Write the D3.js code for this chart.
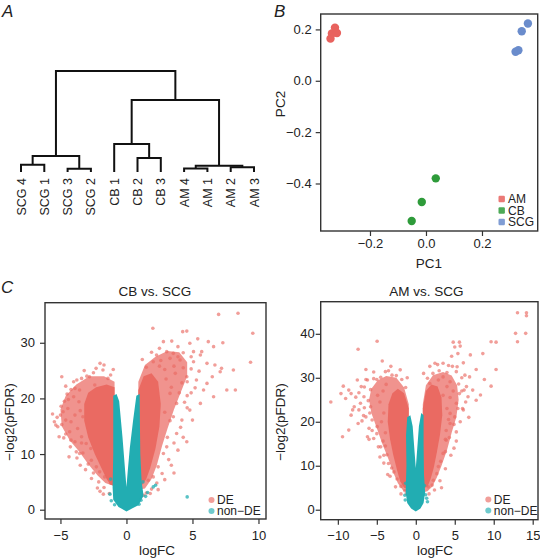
<!DOCTYPE html>
<html><head><meta charset="utf-8">
<script src="https://cdn.jsdelivr.net/npm/d3@7"></script>
<style>
body{margin:0;background:#fff}
text{font-family:"Liberation Sans",Arial,Helvetica,sans-serif;fill:#222}
</style></head>
<body><svg id="c" width="540" height="560"></svg>
<script>
// ---------- Panel A: dendrogram data ----------
const leafNames = ["SCG 4","SCG 1","SCG 3","SCG 2","CB 1","CB 2","CB 3","AM 4","AM 1","AM 2","AM 3"];
// hclust-style merges: negative = leaf (1-based), positive = earlier merge (1-based)
const mergeLeft   = [-3, -8, -10, -1, 4, -6, -5, 2, 7, 5];
const mergeRight  = [-4, -9, -11, -2, 1, -7,  6, 3, 8, 9];
const mergeHeight = [0.033, 0.035, 0.047, 0.072, 0.158, 0.139, 0.277, 0.062, 0.713, 1.0];

// ---------- Panel B: PCA ----------
const pcaGroups = ["AM","CB","SCG"];
const pcaColors = ["#e8625e","#2e9b3a","#6a8ccc"];
const pcaGroup = ["AM","AM","AM","AM","CB","CB","CB","SCG","SCG","SCG","SCG"];
const pc1 = [-0.341,-0.336,-0.325,-0.318, 0.035,-0.015,-0.051, 0.364, 0.342, 0.330, 0.320];
const pc2 = [ 0.164, 0.184, 0.207, 0.186,-0.380,-0.472,-0.546, 0.223, 0.193, 0.119, 0.113];
const pcaXTicks = [-0.2, 0.0, 0.2];
const pcaYTicks = [0.2, 0.0, -0.2, -0.4];

// ---------- Panel C: volcano plots ----------
const volcLegend = ["DE","non\u2212DE"];
const deColor = "#ea6a62", nonColor = "#22adb2";

// CB vs. SCG  (dense regions as outlines [logFC, -log2 pFDR], sparse genes as points)
const cbXTicks = [-5, 0, 5, 10];
const cbYTicks = [0, 10, 20, 30];
const cbDEHaloLeft = [[-0.9,23],[-1.7,24],[-2.8,24],[-3.8,22.5],[-4.6,20.5],[-5.0,18],[-4.9,15],[-4.3,12.5],[-3.6,10.5],[-2.9,8.2],[-2.2,6.2],[-1.6,4.8],[-0.9,4.2]];
const cbDECoreLeft = [[-0.9,22],[-1.5,22.5],[-2.3,22],[-2.9,21],[-3.2,19],[-3.2,16],[-2.9,13],[-2.4,10],[-1.9,7.5],[-1.5,5.5],[-1.2,4.5],[-0.9,4.3]];
const cbDEHaloRight = [[0.9,23],[1.4,26],[2.2,27.5],[3.1,28.5],[4.0,28.3],[4.6,26.5],[4.6,24],[4.1,21],[3.6,18],[3.1,14.5],[2.7,11.5],[2.3,8],[1.9,5.5],[1.4,3.8],[0.9,3.6]];
const cbDECoreRight = [[0.9,21.5],[1.3,24],[1.9,24.5],[2.4,23],[2.6,19],[2.5,15],[2.2,11],[1.8,7.5],[1.5,5.5],[1.2,4.5],[0.9,4.3]];
const cbNonCore = [[0,-0.3],[-0.6,0.5],[-1.0,1.8],[-1.05,4],[-1.0,10],[-1.0,16],[-1.0,20.5],[-0.75,20.8],[-0.55,19.5],[-0.3,13],[-0.1,7],[0,4.1],[0.1,7],[0.25,11],[0.5,16],[0.75,20.5],[1.0,20.8],[1.02,15],[1.05,10],[1.15,5],[1.3,2.5],[0.9,0.8]];
const cbDEPoints = [[-5.46,15.8],[-5.2,14.9],[-4.9,23.9],[-4.6,22.2],[-3.76,23.3],[-3.2,25],[-2.0,26.3],[-2.8,23.9],[-4.6,16.1],[-4.3,14.0],[-3.8,10.4],[-3.55,10.1],[-3.05,11.9],[-3.4,13.1],[-4.2,12.5],[-2.66,8.9],[-2.28,7.7],[-2.03,6.8],[-1.65,5.9],[-4.8,17.6],[-5.1,13.1],[-4.0,20.3],[-3.55,21.5],[-2.4,22.4],[-1.78,25.1],[-1.4,23.6],[-4.44,18.2],[-3.3,16.7],[-4.7,19.5],[-5.0,17.0],[-4.5,20.8],[-3.9,21.8],[-3.0,24.0],[-2.5,24.6],[-1.2,24.2],[-4.9,15.3],[-4.6,13.6],[-3.9,12.2],[-3.3,10.2],[-2.9,8.2],[-2.5,6.6],[-2.1,5.0],[-1.7,4.0],[-1.3,2.9],[-1.2,4.8],
 [-4.95,18.6],[-5.25,16.6],[-5.35,15.2],[-4.75,12.9],[-4.25,11.3],[-3.75,9.3],[-3.1,7.2],[-2.65,5.6],[-2.2,3.9],[-1.75,2.8],[-4.2,21.6],[-3.4,23.6],[-2.3,25.4],[-1.7,26.0],[-1.0,25.2],[-4.0,23.0],[-5.6,17.2],[-3.5,8.0],[-2.0,3.3],[-4.35,9.5],
 [-3.6,19.4],[-3.9,17.0],[-4.2,15.8],[-3.7,14.6],[-3.5,17.8],[-4.4,19.8],[-3.4,12.0],[-2.7,11.0],
 [8.45,35.3],[6.98,35.1],[9.57,31.7],[4.26,32],[4.57,32.1],[3.43,30.3],[2.8,30.2],[6.2,30.2],[7.3,30],[6.6,29.3],[5.7,28.4],[5.08,28.4],[5.6,27.8],[4.3,28.2],[3.55,28.1],[3.05,28.4],[2.28,27.8],[2.03,26.6],[4.06,26.9],[5.08,26.6],[6.1,26.3],[6.7,26],[7.2,25.4],[7.1,24.8],[8.1,25.1],[9.4,26.5],[6.5,23.9],[7.6,21.5],[8.25,21.5],[4.57,23.9],[5.3,23.3],[5.84,21.5],[6.6,20.3],[5.6,19.1],[4.8,17.9],[4.57,12.2],[4.2,16.1],[3.55,16.7],[3.8,13.7],[3.05,11.3],[2.8,10.1],[2.4,7.7],[2.03,5.9],[1.65,5.3],[3.8,19.1],[3.3,20.9],[3.7,24.5],[4.2,22.8],[4.6,20.5],[4.0,21.0],[3.6,25.8],[2.6,26.8],[1.5,25.6],[4.9,25.3],[5.5,24.9],[4.4,19.3],[4.1,14.8],[3.6,12.0],[3.2,9.0],[2.7,6.5],[2.3,4.8],[1.9,3.7],[1.5,3.0],[5.2,21.9],[6.1,22.7],[4.8,29.9],[5.4,30.7],[3.9,29.3],[1.3,2.6],
 [1.2,27.0],[1.9,28.3],[2.5,29.0],[3.3,27.2],[4.3,25.5],[4.6,23.0],[4.9,21.0],[4.6,18.3],[4.3,13.0],[3.9,10.7],[3.4,8.0],[2.9,5.4],[2.4,3.6],[1.8,2.9],[5.0,16.1],[3.6,6.6],[4.9,27.5],[2.0,32.6],
 [3.0,23.5],[3.4,22.0],[2.9,17.5],[3.3,16.0],[2.9,25.2],[3.9,27.5],[2.5,25.8],[3.1,13.0]];
const cbNonPoints = [[4.6,2.3],[2.03,4.1],[2.2,4.4],[1.6,3.1],[1.45,2.4],[-1.15,1.6],[-1.25,2.8],[-1.2,5.5],[1.25,5.0],[-0.9,0.9],[0.95,1.0],[1.1,1.7]];

// AM vs. SCG
const amXTicks = [-10, -5, 0, 5, 10, 15];
const amYTicks = [0, 10, 20, 30, 40];
const amDEHaloLeft = [[-0.9,24],[-1.5,27.8],[-2.5,30],[-3.8,30.4],[-4.9,29.4],[-5.7,27.5],[-6.0,25],[-5.7,22],[-5.0,18.5],[-4.3,15],[-3.5,11.5],[-2.9,8.5],[-2.3,6],[-1.6,4.3],[-0.9,4]];
const amDECoreLeft = [[-0.9,23],[-1.5,26.5],[-2.3,27.5],[-3.0,26.5],[-3.5,24],[-3.6,20],[-3.3,16],[-2.9,12.5],[-2.4,9],[-2.0,6.5],[-1.5,5],[-0.9,4.7]];
const amDEHaloRight = [[0.9,24],[1.3,28.3],[2.2,30.6],[3.5,31.3],[4.6,30.5],[5.3,28.3],[5.5,25],[5.2,21],[4.6,17.5],[4.0,13.5],[3.3,10],[2.7,7.3],[2.1,5.2],[1.5,4.2],[0.9,4]];
const amDECoreRight = [[0.9,23],[1.3,27],[2.0,28.5],[2.8,28],[3.3,25.5],[3.4,21.5],[3.1,17],[2.7,13],[2.3,9.5],[1.9,7],[1.5,5.2],[0.9,4.8]];
const amNonCore = [[0,-0.4],[-0.6,0.3],[-1.1,1.5],[-1.3,4],[-1.2,10],[-1.25,17],[-1.1,21],[-0.7,21.5],[-0.4,19],[-0.15,13],[0,9.5],[0.15,13],[0.4,19],[0.7,22],[1.0,21.5],[1.0,15],[1.05,8],[1.2,4],[1.0,1.5],[0.6,0.3]];
const amDEPoints = [[-10.9,24.5],[-9.3,28.1],[-9.6,26.4],[-8.6,27.2],[-8.3,26.4],[-7.4,36.5],[-4.96,38.3],[-4.3,33.8],[-6.4,31.9],[-7.0,28],[-7.5,29.5],[-6.2,29.5],[-5.4,29.8],[-5.0,29.6],[-3.9,31.4],[-3.5,31.6],[-3.05,30.6],[-9.0,25.3],[-7.9,23.4],[-7.3,22.7],[-8.3,21.5],[-7.4,19.6],[-6.4,21.1],[-6.0,18.5],[-6.2,16.6],[-9.4,16.6],[-8.6,18.1],[-5.4,16.2],[-4.5,14.3],[-4.1,12.4],[-3.5,10.5],[-2.8,8.6],[-5.8,23.4],[-6.65,25.7],[-7.1,24.2],[-8.1,22.7],[-4.96,18.9],[-5.6,20.4],[-5.8,27.3],[-6.1,24.8],[-6.6,27.9],[-4.5,30.1],[-2.5,30.5],[-1.8,29.6],[-1.3,27.8],[-5.0,17.3],[-4.2,15.6],[-3.7,12.5],[-3.1,9.5],[-2.4,7.0],[-1.9,5.3],[-1.4,4.3],[-6.9,20.2],[-7.7,25.6],[-5.9,22.0],
 [-6.6,23.2],[-6.7,21.4],[-5.6,18.0],[-4.8,14.3],[-4.1,10.6],[-3.3,7.6],[-2.6,5.2],[-1.9,3.6],[-1.2,3.6],[-6.4,29.6],[-5.4,31.3],[-3.2,32.6],[-2.0,31.8],[-1.1,30.0],[-7.3,26.6],[-6.0,16.0],[-4.6,12.0],[-3.6,8.0],
 [-4.2,27.0],[-4.6,24.5],[-4.1,22.0],[-4.4,20.0],[-3.9,17.5],[-3.8,28.5],[-4.9,26.0],[-3.9,14.5],
 [13.05,44.8],[14.2,44.8],[14.2,44.1],[12.8,40.1],[14.1,40.1],[13.05,38.2],[9.66,38.2],[10.3,38.1],[4.8,38.1],[5.6,38.1],[5.7,37.2],[5.0,37],[5.4,35.5],[8.6,35.5],[7.0,35.2],[4.6,34.9],[3.5,33.3],[2.46,33.3],[6.1,33.4],[7.75,31.9],[10.3,31.9],[8.8,29.6],[9.66,28.1],[6.9,30.2],[6.3,30.6],[5.2,31.4],[4.4,29.1],[6.5,28],[7.3,27.2],[5.6,26.4],[6.7,25.7],[7.75,24.9],[5.2,24.2],[6.1,22.7],[5.0,21.1],[4.4,19.6],[5.2,17.7],[3.9,15.8],[3.5,12.8],[2.9,9.8],[2.25,6.7],[1.6,5.2],[4.4,21.9],[3.5,26],[2.9,29.5],[1.8,28.7],[5.5,28.6],[5.9,27.0],[4.0,31.2],[3.0,31.6],[2.2,31.0],[1.5,29.9],[5.4,23.0],[4.9,19.4],[4.3,16.4],[3.8,13.2],[3.2,11.0],[2.7,8.2],[2.1,5.6],[6.4,24.5],[8.3,26.1],[4.7,32.6],
 [1.0,31.0],[1.8,32.6],[2.8,33.0],[4.2,32.8],[5.3,32.5],[5.9,30.0],[6.2,27.2],[6.0,23.0],[5.7,20.0],[5.2,15.6],[4.5,12.4],[3.8,9.3],[3.1,6.6],[2.4,4.5],[1.7,3.6],[6.8,21.0],[4.9,14.0],[3.3,5.0],
 [4.0,28.0],[4.4,25.5],[4.0,23.0],[4.2,20.5],[3.9,18.0],[3.8,16.0],[3.5,30.2],[4.8,27.0]];
const amNonPoints = [[1.4,2.6],[1.5,1.8],[1.25,3.4],[-1.35,2.2],[-1.4,3.3],[1.1,5.5],[-1.3,6]];

// ================= drawing =================
const svg = d3.select("#c");
const fmt1 = d3.format(".1f"), fmt0 = d3.format("d");

function panelLetter(t, x, y){
  svg.append("text").attr("x",x).attr("y",y).attr("font-size",17).attr("font-style","italic").text(t);
}
panelLetter("A", 2, 17); panelLetter("B", 274, 17); panelLetter("C", 1, 293);

// ---- A: dendrogram ----
(function(){
  const xs = d3.scalePoint().domain(leafNames).range([21, 254]);
  const ys = d3.scaleLinear().domain([0, 1]).range([172, 71]);
  const leafNode = i => ({name: leafNames[i-1], h: 0, x: xs(leafNames[i-1])});
  const nodes = [];
  for (let k = 0; k < mergeLeft.length; k++){
    const ref = v => v < 0 ? leafNode(-v) : nodes[v-1];
    const a = ref(mergeLeft[k]), b = ref(mergeRight[k]);
    nodes.push({children:[a,b], h: mergeHeight[k], x: (a.x + b.x)/2});
  }
  const root = d3.hierarchy(nodes[nodes.length-1]);
  const g = svg.append("g");
  root.each(n => {
    if (!n.children) return;
    const [a,b] = n.children.map(c => c.data);
    const p = d3.path();
    p.moveTo(a.x, ys(a.h)); p.lineTo(a.x, ys(n.data.h)); p.lineTo(b.x, ys(n.data.h)); p.lineTo(b.x, ys(b.h));
    g.append("path").attr("d", p.toString()).attr("fill","none").attr("stroke","#111").attr("stroke-width",2);
  });
  g.selectAll("text.leaf").data(leafNames).join("text")
    .attr("transform", d => `translate(${xs(d)},178) rotate(-90)`)
    .attr("text-anchor","end").attr("dy","0.36em").attr("font-size",12.5).text(d => d);
})();

// ---- generic frame with axes ----
function frame(x, y, xt, yt, fmt, xpad, ypad){
  const [x0,x1] = x.range(), [y0,y1] = y.range();
  const ax = svg.append("g").attr("transform",`translate(0,${y0})`)
    .call(d3.axisBottom(x).tickValues(xt).tickSize(5).tickSizeOuter(0).tickPadding(xpad).tickFormat(fmt));
  const ay = svg.append("g").attr("transform",`translate(${x0},0)`)
    .call(d3.axisLeft(y).tickValues(yt).tickSize(5).tickSizeOuter(0).tickPadding(ypad).tickFormat(fmt));
  [ax, ay].forEach(a => {
    a.select(".domain").remove();
    a.selectAll("line").attr("stroke","#333").attr("stroke-width",1.2);
    a.selectAll("text").attr("font-size",13).attr("font-family",null).attr("fill","#222");
  });
  svg.append("rect").attr("x",x0).attr("y",y1).attr("width",x1-x0).attr("height",y0-y1)
    .attr("fill","none").attr("stroke","#333").attr("stroke-width",1.4);
}
function xTitle(t, x, y){ svg.append("text").attr("x",x).attr("y",y).attr("text-anchor","middle").attr("font-size",13.5).text(t); }
function yTitle(t, x, y){ svg.append("text").attr("transform",`translate(${x},${y}) rotate(-90)`).attr("text-anchor","middle").attr("font-size",13.5).text(t); }

// ---- B: PCA ----
(function(){
  const x = d3.scaleLinear().domain([-0.376, 0.399]).range([320.7, 537.7]);
  const y = d3.scaleLinear().domain([-0.585, 0.26]).range([231, 14]);
  const col = d3.scaleOrdinal().domain(pcaGroups).range(pcaColors);
  svg.append("g").selectAll("circle").data(pc1.map((v,i)=>i)).join("circle")
    .attr("cx", i => x(pc1[i])).attr("cy", i => y(pc2[i])).attr("r", 4.2)
    .attr("fill", i => col(pcaGroup[i]));
  frame(x, y, pcaXTicks, pcaYTicks, fmt1, 3, 4);
  xTitle("PC1", 429, 268);
  yTitle("PC2", 285, 104);
  const lg = svg.append("g");
  pcaGroups.forEach((gname, i) => {
    const yy = 199 + i*11.5;
    lg.append("rect").attr("x", 498.5).attr("y", yy-3.2).attr("width",6.4).attr("height",6.4).attr("rx",1.2)
      .attr("fill", col(gname)).attr("opacity",0.85);
    lg.append("text").attr("x", 508).attr("y", yy+4.2).attr("font-size",12).text(gname);
  });
})();

// ---- C: volcano plots ----
function volcano(o){
  const x = d3.scaleLinear().domain(o.xd).range(o.xr);
  const y = d3.scaleLinear().domain(o.yd).range(o.yr);
  const outline = d3.line().x(d => x(d[0])).y(d => y(d[1])).curve(d3.curveLinearClosed);
  const g = svg.append("g");
  [o.haloL, o.haloR].forEach(c => g.append("path").attr("d", outline(c)).attr("fill", deColor).attr("opacity",0.72));
  [o.deL, o.deR].forEach(c => g.append("path").attr("d", outline(c)).attr("fill", deColor));
  g.append("g").selectAll("circle").data(o.dePts).join("circle")
    .attr("cx", d => x(d[0])).attr("cy", d => y(d[1])).attr("r",1.8)
    .attr("fill", deColor).attr("opacity",0.65);
  g.append("path").attr("d", outline(o.non)).attr("fill", nonColor);
  g.append("g").selectAll("circle").data(o.nonPts).join("circle")
    .attr("cx", d => x(d[0])).attr("cy", d => y(d[1])).attr("r",1.8)
    .attr("fill", nonColor).attr("opacity",0.75);
  frame(x, y, o.xt, o.yt, fmt0, o.xpad, o.ypad);
  svg.append("text").attr("x", o.title[1]).attr("y", 296).attr("text-anchor","middle").attr("font-size",13.5).text(o.title[0]);
  xTitle("logFC", o.xlab, 555);
  yTitle("\u2212log2(pFDR)", o.ylab, 422);
  const lg = svg.append("g");
  volcLegend.forEach((t,i) => {
    const yy = o.leg[1] + i*11;
    lg.append("circle").attr("cx", o.leg[0]).attr("cy", yy).attr("r",3)
      .attr("fill", i === 0 ? deColor : nonColor).attr("opacity",0.65);
    lg.append("text").attr("x", o.leg[0]+5.5).attr("y", yy+4.2).attr("font-size",12).text(t);
  });
}
volcano({xd:[-6.17,10.57], xr:[45,266], yd:[-1.67,37.2], yr:[519,302.7],
  xt:cbXTicks, yt:cbYTicks, haloL:cbDEHaloLeft, haloR:cbDEHaloRight, deL:cbDECoreLeft, deR:cbDECoreRight, non:cbNonCore,
  dePts:cbDEPoints, nonPts:cbNonPoints, xpad:7, ypad:5,
  title:["CB vs. SCG",155], xlab:157, ylab:14, leg:[211.5,500]});
volcano({xd:[-12.2,15.68], xr:[320.7,538], yd:[-2.27,47.3], yr:[519.7,301.7],
  xt:amXTicks, yt:amYTicks, haloL:amDEHaloLeft, haloR:amDEHaloRight, deL:amDECoreLeft, deR:amDECoreRight, non:amNonCore,
  dePts:amDEPoints, nonPts:amNonPoints, xpad:6, ypad:1,
  title:["AM vs. SCG",426.5], xlab:435, ylab:285, leg:[488.3,499.5]});
</script></body></html>
